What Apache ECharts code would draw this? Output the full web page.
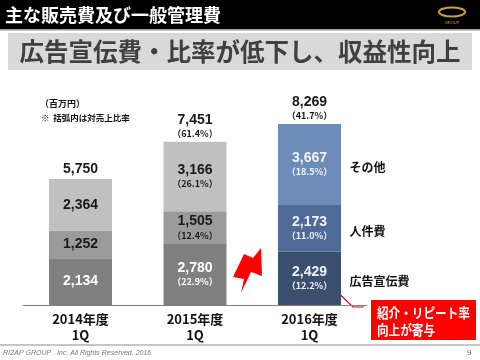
<!DOCTYPE html>
<html><head><meta charset="utf-8">
<script src="https://cdn.jsdelivr.net/npm/echarts@6/dist/echarts.min.js"></script>
<style>html,body{margin:0;padding:0;background:#fff}#c{width:480px;height:360px}</style>
</head><body><div id="c"></div>
<script>
const categories = ['2014年度\n1Q', '2015年度\n1Q', '2016年度\n1Q'];
const seriesNames = ['広告宣伝費', '人件費', 'その他'];
const adValues = [2134, 2780, 2429];
const staffValues = [1252, 1505, 2173];
const otherValues = [2364, 3166, 3667];
const totalValues = [5750, 7451, 8269];
const adPct = ['', '22.9%', '12.2%'];
const staffPct = ['', '12.4%', '11.0%'];
const otherPct = ['', '26.1%', '18.5%'];
const totalPct = ['', '61.4%', '41.7%'];

const FONT = "'Liberation Sans','Noto Sans CJK JP',sans-serif";
const JP = "'Noto Sans CJK JP','Liberation Sans',sans-serif";
const grayColors = ['#808080', '#9b9b9b', '#c0c0c0'];
const blueColors = ['#3a4e6d', '#4e6b97', '#6e8cb9'];
const grayText = ['#ffffff', '#1a1a1a', '#1a1a1a'];
const fmt = v => v.toLocaleString('en-US');

function mkData(vals, k) {
  return vals.map((v, i) => ({
    value: v,
    itemStyle: { color: i === 2 ? blueColors[k] : grayColors[k] },
    label: { color: i === 2 ? '#f0f3f8' : grayText[k] }
  }));
}
function mkLabel(pcts) {
  return {
    show: true, position: 'inside', fontFamily: FONT,
    formatter: p => pcts[p.dataIndex]
      ? '{v|' + fmt(p.value) + '}\n{p|（' + pcts[p.dataIndex] + '）}'
      : '{v|' + fmt(p.value) + '}',
    rich: {
      v: { fontSize: 14, fontWeight: 'bold', fontFamily: FONT, lineHeight: 15 },
      p: { fontSize: 9, fontWeight: 'bold', fontFamily: JP, lineHeight: 12 }
    }
  };
}
const valueLists = [adValues, staffValues, otherValues];
const pctLists = [adPct, staffPct, otherPct];
const series = valueLists.map((vals, k) => ({
  name: seriesNames[k], type: 'bar', stack: 'total', barWidth: 63,
  data: mkData(vals, k), label: mkLabel(pctLists[k]), silent: true
}));
series.push({
  name: 'total', type: 'bar', stack: 'total', barWidth: 63, silent: true,
  data: totalValues.map(() => 0),
  label: {
    show: true, position: 'top', distance: 2, color: '#1a1a1a',
    formatter: p => totalPct[p.dataIndex]
      ? '{v|' + fmt(totalValues[p.dataIndex]) + '}\n{p|（' + totalPct[p.dataIndex] + '）}'
      : '{v|' + fmt(totalValues[p.dataIndex]) + '}',
    rich: {
      v: { fontSize: 14, fontWeight: 'bold', fontFamily: FONT, lineHeight: 15, color: '#1a1a1a' },
      p: { fontSize: 9, fontWeight: 'bold', fontFamily: JP, lineHeight: 12, color: '#1a1a1a' }
    }
  }
});

const chart = echarts.init(document.getElementById('c'), null, { renderer: 'canvas' });
chart.setOption({
  animation: false,
  backgroundColor: '#ffffff',
  grid: { left: 23.25, width: 343.5, top: 86, height: 219 },
  xAxis: {
    type: 'category', data: categories,
    axisLine: { lineStyle: { color: '#808080', width: 1 } },
    axisTick: { show: false },
    axisLabel: { color: '#111', fontSize: 13, fontWeight: 'bold', fontFamily: JP, lineHeight: 16, margin: 6 }
  },
  yAxis: { type: 'value', min: 0, max: 10000, show: false, splitLine: { show: false } },
  series: series,
  graphic: [
    { id: 'hdr', type: 'rect', shape: { x: 0, y: 0, width: 480, height: 29 }, style: { fill: '#000' } },
    { id: 'hdrline', type: 'rect', shape: { x: 0, y: 29, width: 480, height: 1.5 }, style: { fill: '#9a9a9a' } },
    { id: 'hdrtxt', type: 'text', x: 5, y: 15, style: { text: '主な販売費及び一般管理費', fill: '#fff', font: 'bold 18px ' + JP, textVerticalAlign: 'middle' } },
    { id: 'logo', type: 'ellipse', shape: { cx: 452, cy: 12, rx: 13, ry: 4.5 }, style: { fill: 'none', stroke: '#c9a23a', lineWidth: 2 } },
    { id: 'logotxt', type: 'text', x: 452, y: 23, style: { text: 'GROUP', fill: '#c9a23a', font: '4px ' + FONT, textAlign: 'center', textVerticalAlign: 'middle' } },
    { id: 'subbox', type: 'rect', shape: { x: 8, y: 33, width: 464, height: 37 }, style: { fill: '#d9d9d9' } },
    { id: 'subtxt', type: 'text', x: 240, y: 52, style: { text: '広告宣伝費・比率が低下し、収益性向上', fill: '#404040', font: 'bold 24.5px ' + JP, textAlign: 'center', textVerticalAlign: 'middle' } },
    { id: 'unit', type: 'text', x: 40, y: 104, style: { text: '（百万円）', fill: '#111', font: 'bold 9px ' + JP, textVerticalAlign: 'middle' } },
    { id: 'note', type: 'text', x: 41, y: 118, style: { text: '※  括弧内は対売上比率', fill: '#111', font: 'bold 8.5px ' + JP, textVerticalAlign: 'middle' } },
    { id: 'arrow', type: 'polygon', shape: { points: [[244, 254], [253, 258], [261, 248], [262, 276], [251, 272], [241, 293], [244, 279], [233, 277]] }, style: { fill: '#ff0000' } },
    { id: 'callline', type: 'polyline', shape: { points: [[331, 286], [353, 307], [364, 307]] }, style: { stroke: '#e00000', lineWidth: 1.2, fill: 'none' } },
    { id: 'callbox', type: 'rect', shape: { x: 371, y: 300, width: 105, height: 40 }, style: { fill: '#ff0000' } },
    { id: 'calltxt', type: 'text', x: 377, y: 321, scaleX: 0.86, originX: 0, originY: 0, style: { text: '紹介・リピート率\n向上が寄与', fill: '#fff', font: 'bold 13.5px ' + JP, lineHeight: 17, textVerticalAlign: 'middle' } },
    { id: 'footline', type: 'rect', shape: { x: 0, y: 344.5, width: 480, height: 1 }, style: { fill: '#8c8c8c' } },
    { id: 'foottxt', type: 'text', x: 3, y: 353, style: { text: 'RIZAP GROUP . Inc. All Rights Reserved. 2016', fill: '#777', font: 'italic 7px ' + FONT, textVerticalAlign: 'middle' } },
    { id: 'page', type: 'text', x: 467, y: 353, style: { text: '9', fill: '#666', font: '8px ' + FONT, textVerticalAlign: 'middle' } }
  ]
});

// Right-side segment names, positioned at the 2016 stacked segment middles
const last = categories.length - 1;
let base = 0;
const nameGraphics = valueLists.map((vals, k) => {
  const mid = base + vals[last] / 2;
  base += vals[last];
  const pt = chart.convertToPixel({ xAxisIndex: 0, yAxisIndex: 0 }, [last, mid]);
  return { id: 'nm' + k, type: 'text', x: pt[0] + 40, y: pt[1] + 3,
    style: { text: seriesNames[k], fill: '#111', font: 'bold 12px ' + JP, textVerticalAlign: 'middle' } };
});
chart.setOption({ graphic: nameGraphics });
</script></body></html>
